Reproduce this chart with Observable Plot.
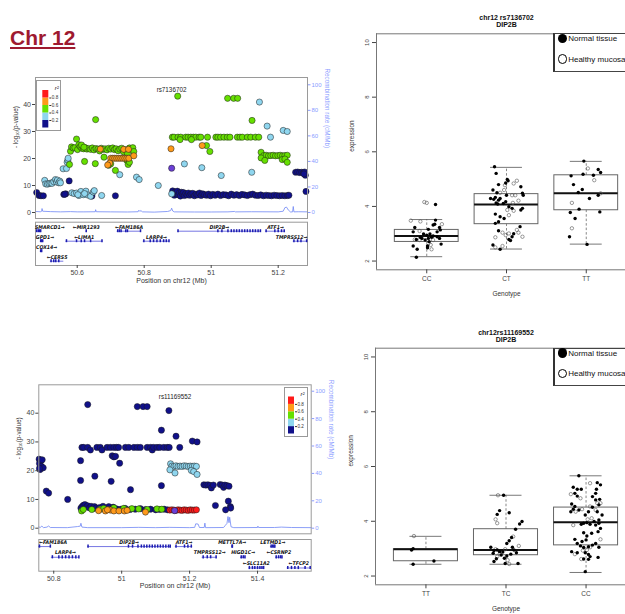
<!DOCTYPE html>
<html><head><meta charset="utf-8">
<script src="https://cdn.jsdelivr.net/npm/d3@7"></script>
<script src="https://cdn.jsdelivr.net/npm/@observablehq/plot@0.6"></script>
<style>
html,body{margin:0;padding:0;background:#fff;overflow:hidden;}
#root{position:relative;width:625px;height:614px;overflow:hidden;font-family:"Liberation Sans",Arial,Helvetica,sans-serif;background:#fff;}
#root svg{position:absolute;max-width:none !important;}
.lg{position:absolute;border:1.3px solid #444;border-left:2px solid #333;border-right:none;background:#fff;box-sizing:border-box;}
.lgrow{position:absolute;left:3px;font-size:8px;color:#111;white-space:nowrap;line-height:10px;}
.lgc{display:inline-block;width:9.5px;height:9.5px;border-radius:50%;vertical-align:middle;margin-right:1px;box-sizing:border-box;position:relative;top:-0.5px;}
</style></head><body><div id="root"></div>
<script>
// ---------------- DATA ----------------
// r2 class: 0 navy (<0.2), 1 light blue, 2 green, 3 orange, 4 red, 5 index SNP (purple)
const topSnps = [
[50.479,7.4,0],[50.486,6.3,0],[50.492,6.2,0],[50.499,6.2,0],
[50.503,11.9,1],[50.506,10.6,1],[50.511,10.5,1],[50.516,10.7,1],[50.521,10.9,1],[50.525,10.8,1],[50.530,11.4,1],[50.535,12.2,1],[50.538,11.3,1],[50.541,12.0,1],[50.545,11.0,1],[50.548,11.6,1],[50.550,11.0,1],
[50.558,16.2,1],[50.568,16.3,1],[50.570,18.6,1],[50.572,19.4,1],[50.573,20.1,1],
[50.576,11.7,0],[50.560,6.7,0],[50.566,6.9,0],[50.563,6.8,0],[50.577,17.8,2],
[50.584,7.3,1],[50.591,7.0,1],[50.598,7.2,1],[50.605,6.3,1],[50.611,7.8,1],[50.618,6.6,1],[50.626,7.9,1],[50.631,6.5,1],[50.640,6.0,1],[50.648,7.6,1],[50.651,8.1,1],[50.673,6.3,1],[50.602,6.6,1],[50.622,7.0,1],
[50.644,6.1,0],[50.714,6.2,0],
[50.580,22.7,2],[50.583,24.3,2],[50.588,23.9,2],[50.593,24.0,2],[50.598,27.2,2],[50.601,23.3,2],[50.605,25.1,2],[50.609,24.4,2],[50.614,23.8,2],[50.619,23.6,2],[50.624,24.0,2],[50.629,23.5,2],[50.634,23.7,2],[50.640,23.4,2],[50.645,23.9,2],[50.650,23.2,2],[50.656,23.7,2],[50.662,23.5,2],[50.667,22.8,2],[50.672,23.8,2],[50.678,23.4,2],[50.683,23.6,2],[50.689,23.2,2],[50.694,23.8,2],[50.700,23.5,2],[50.706,23.9,2],[50.711,23.3,2],[50.716,23.6,2],[50.722,22.9,2],[50.727,23.5,2],[50.733,23.8,2],[50.738,22.5,2],[50.744,23.2,2],[50.750,21.8,2],[50.756,23.9,2],[50.762,23.4,2],[50.766,24.0,2],[50.769,22.6,2],
[50.669,23.5,3],[50.739,23.4,3],[50.753,23.4,3],
[50.700,20.1,3],[50.706,20.1,3],[50.712,20.1,3],[50.718,20.1,3],[50.724,20.1,3],[50.730,20.1,3],[50.736,20.1,3],[50.742,20.1,3],[50.748,20.1,3],[50.754,20.1,3],[50.769,21.0,3],[50.697,18.3,3],[50.691,17.6,3],
[50.622,18.9,2],[50.654,18.1,2],[50.655,34.4,2],[50.680,20.5,2],[50.694,17.5,2],[50.700,18.0,2],[50.714,15.6,2],[50.748,19.3,2],[50.752,17.8,2],[50.756,18.6,2],[50.613,25.0,2],[50.620,24.2,2],
[50.727,14.0,1],[50.777,13.1,1],[50.785,12.2,1],[50.842,10.0,1],
[50.900,43.1,2],[51.049,42.3,2],[51.067,42.3,2],[51.079,42.3,2],
[51.144,40.9,1],[51.122,34.1,2],[51.167,32.0,1],[51.215,30.4,1],[51.227,30.0,1],
[50.884,27.9,2],[50.889,27.9,2],[50.901,27.9,2],[50.909,27.9,2],[50.924,27.9,2],[50.931,27.9,2],[50.939,27.9,2],[50.947,27.9,2],[50.954,27.9,2],[50.964,27.9,2],[50.969,27.9,2],[50.989,27.9,2],[51.014,27.9,2],[51.020,27.9,2],[51.028,27.9,2],[51.038,27.9,2],[51.048,27.9,2],[51.056,27.9,2],[51.078,27.9,2],[51.086,27.9,2],[51.093,27.9,2],[51.108,27.9,2],[51.118,27.9,2],[51.132,27.9,2],[51.142,27.9,2],[50.907,27.0,2],[50.941,27.0,2],
[51.177,27.9,1],
[50.880,23.6,3],[50.973,24.8,3],[50.986,24.8,2],[50.996,22.6,2],
[51.149,22.3,2],[51.157,21.1,2],[51.164,21.2,2],[51.171,21.0,2],[51.178,21.1,2],[51.185,21.2,2],[51.192,21.0,2],[51.199,21.1,2],[51.206,21.2,2],[51.213,21.0,2],[51.220,21.1,2],[51.227,21.2,2],[51.149,20.2,2],[51.160,19.3,2],[51.212,19.6,2],[51.220,19.8,2],[51.227,18.6,2],
[50.882,16.4,5],
[50.920,18.0,1],[50.972,16.6,1],[51.030,13.7,1],[51.121,14.9,1],[50.882,6.9,1],
[50.885,8.0,0],[50.888,7.2,0],[50.890,6.4,0],[50.893,7.6,0],[50.896,6.8,0],[50.899,7.9,0],[50.902,6.6,0],[50.905,7.3,0],[50.908,6.1,0],[50.911,7.5,0],[50.914,6.9,0],[50.917,7.4,0],[50.920,6.3,0],[50.924,7.0,0],[50.928,6.5,0],[50.932,7.2,0],[50.936,6.4,0],[50.940,6.9,0],[50.945,7.1,0],[50.950,6.2,0],[50.955,6.8,0],[50.960,6.5,0],[50.965,7.2,0],[50.970,6.3,0],[50.975,6.9,0],[50.980,6.6,0],[50.986,6.4,0],[50.992,6.8,0],[50.998,6.2,0],[51.005,6.7,0],[51.012,6.4,0],[51.020,6.8,0],[51.028,6.3,0],[51.036,6.6,0],[51.044,6.5,0],[51.052,6.2,0],[51.060,6.8,0],[51.068,6.4,0],[51.076,6.6,0],[51.084,6.3,0],[51.092,6.7,0],[51.100,6.5,0],[51.108,6.3,0],[51.116,6.6,0],[51.124,6.8,0],[51.132,6.4,0],[51.140,6.3,0],[51.148,6.5,0],[51.156,6.2,0],[51.164,6.4,0],[51.172,6.3,0],[51.180,6.2,0],[51.188,6.4,0],[51.196,6.3,0],[51.204,6.2,0],[51.212,6.3,0],[51.220,6.2,0],[51.228,6.3,0],[51.232,6.4,0],
[51.252,14.9,0],[51.258,15.0,0],[51.264,14.8,0],[51.270,14.9,0],[51.275,14.7,0],[51.279,15.0,0],[51.281,13.8,0],[51.277,14.3,0],[51.283,7.8,0]
];
const topRecomb = [[50.4755,0.8],[50.490,0.6],[50.494,1.0],[50.495,3.1],[50.497,1.0],[50.52,0.7],[50.55,0.5],[50.58,0.7],[50.60,0.5],[50.62,0.5],[50.654,0.6],[50.655,2.2],[50.657,0.6],[50.70,0.5],[50.75,0.4],[50.782,0.6],[50.784,1.8],[50.787,0.8],[50.790,1.5],[50.795,0.5],[50.83,0.3],[50.87,0.8],[50.879,1.5],[50.882,3.4],[50.885,1.2],[50.89,0.5],[50.95,0.4],[51.0,0.4],[51.05,0.5],[51.07,0.8],[51.072,0.5],[51.12,0.6],[51.2,0.5],[51.215,1.0],[51.22,3.8],[51.225,4.2],[51.23,2.0],[51.237,0.4],[51.243,0.5],[51.245,4.7],[51.247,0.5],[51.26,0.6],[51.2875,0.5]];

const botSnps = [
[50.757,24.0,0],[50.758,22.5,0],[50.760,20.4,0],[50.762,23.5,0],[50.764,21.5,0],[50.766,23.8,0],[50.769,21.0,0],[50.758,20.8,0],
[50.778,12.9,0],[50.785,12.2,0],[50.841,10.0,0],[50.879,16.6,0],[50.879,23.5,0],[50.900,43.0,0],
[50.883,28.1,0],[50.888,28.1,0],[50.900,28.1,0],[50.908,27.2,0],[50.927,28.1,0],[50.937,28.1,0],[50.942,27.2,0],[50.957,28.1,0],[50.967,28.1,0],[50.977,28.1,0],[50.985,28.1,0],[50.991,28.1,0],[51.011,28.1,0],[51.021,28.1,0],[51.036,28.1,0],[51.046,28.1,0],[51.055,28.1,0],[51.075,28.1,0],[51.085,28.1,0],[51.090,27.2,0],[51.094,28.1,0],[51.104,28.1,0],[51.112,28.1,0],[51.124,28.1,0],[51.134,28.1,0],[51.140,28.1,0],
[50.921,18.1,0],[50.972,25.2,0],[50.977,24.8,0],[50.982,25.0,0],[50.969,16.3,0],[50.994,22.6,0],[51.026,13.4,0],[51.046,42.3,0],[51.063,42.3,0],[51.075,42.3,0],[51.139,40.9,0],[51.117,34.1,0],[51.160,32.0,0],[51.171,28.1,0],[51.208,30.3,0],[51.222,30.0,0],[51.117,14.8,0],
[51.144,22.4,1],[51.148,21.6,1],[51.154,21.5,1],[51.160,21.7,1],[51.166,21.5,1],[51.172,21.6,1],[51.178,21.5,1],[51.184,21.7,1],[51.190,21.6,1],[51.196,21.5,1],[51.202,21.6,1],[51.208,21.5,1],[51.214,21.6,1],[51.220,21.5,1],[51.142,20.3,1],[51.157,19.2,1],[51.205,20.1,1],[51.212,19.7,1],[51.222,18.7,1],
[51.242,15.1,0],[51.248,15.0,0],[51.254,15.1,0],[51.260,14.9,0],[51.264,14.0,0],[51.270,15.0,0],[51.290,15.2,0],[51.296,15.0,0],[51.300,14.2,0],[51.304,15.0,0],[51.310,14.8,0],[51.316,14.6,0],
[51.276,7.9,0],[51.314,9.4,0],[51.320,7.5,0],[51.321,7.0,0],[51.306,6.4,0],
[50.880,7.0,0],[50.884,7.6,0],[50.888,8.0,0],[50.892,8.2,0],[50.896,7.4,0],[50.900,7.8,0],[50.905,7.1,0],[50.910,7.6,0],[50.915,6.8,0],[50.920,7.5,0],[50.925,7.0,0],[50.935,7.2,0],[50.945,7.6,0],[50.955,6.9,0],[50.962,7.5,0],[50.975,7.3,0],[50.985,6.7,0],[50.998,6.6,0],[51.010,6.9,0],[51.025,6.5,0],[51.040,6.6,0],[51.055,6.8,0],[51.070,6.5,0],[51.085,6.6,0],[51.100,6.4,0],[51.112,6.5,0],[51.125,6.6,0],[51.135,6.4,0],
[50.882,6.0,2],[50.887,6.5,2],[50.912,6.5,2],[50.937,6.6,2],[50.947,6.9,2],[50.977,7.1,2],[51.006,6.9,2],[51.030,6.8,2],[51.050,6.7,2],[51.075,6.5,2],[51.104,6.7,2],[51.118,6.6,2],
[50.932,6.1,3],[50.952,6.0,3],[50.962,6.5,3],[50.967,6.3,3],[50.977,6.0,3],[50.992,6.0,3],[51.008,6.0,3],[51.016,6.2,3],[51.070,5.6,3],[50.958,6.4,3],
[51.142,6.3,4],[51.148,6.4,4],[51.154,6.3,4],[51.160,6.2,4],[51.166,6.4,4],[51.172,6.3,4],[51.178,6.2,4],[51.184,6.4,4],[51.190,6.3,4],[51.196,6.2,4],[51.202,6.4,4],[51.208,6.3,4],[51.214,6.3,4],[51.220,6.4,4],
[51.156,6.1,5]
];
const botRecomb = [[50.756,1.0],[50.760,0.5],[50.765,1.5],[50.770,0.4],[50.780,0.8],[50.785,1.6],[50.790,0.5],[50.840,0.4],[50.870,1.2],[50.878,1.5],[50.880,3.6],[50.883,0.8],[50.90,0.4],[51.0,0.4],[51.05,0.6],[51.1,0.4],[51.14,0.6],[51.2,0.4],[51.215,0.6],[51.218,3.2],[51.225,3.0],[51.229,0.5],[51.243,0.5],[51.245,3.7],[51.247,0.4],[51.30,0.5],[51.305,2.0],[51.310,3.5],[51.313,8.5],[51.316,4.0],[51.318,8.0],[51.322,1.0],[51.33,0.4],[51.40,0.5],[51.401,1.5],[51.403,0.5],[51.45,0.5],[51.47,0.8],[51.50,0.5],[51.558,0.4]];

const topGenes = [
{name:"SMARCD1",strand:"+",start:50.478,end:50.492,row:0},
{name:"MIR1293",strand:"-",start:50.626,end:50.628,row:0},
{name:"FAM186A",strand:"-",start:50.719,end:50.791,row:0},
{name:"DIP2B",strand:"+",start:50.900,end:51.149,row:0},
{name:"ATF1",strand:"+",start:51.162,end:51.222,row:0},
{name:"GPD1",strand:"+",start:50.490,end:50.498,row:1},
{name:"LIMA1",strand:"-",start:50.566,end:50.676,row:1},
{name:"LARP4",strand:"+",start:50.797,end:50.876,row:1},
{name:"TMPRSS12",strand:"+",start:51.245,end:51.287,row:1},
{name:"COX14",strand:"+",start:50.490,end:50.495,row:2},
{name:"CERS5",strand:"-",start:50.520,end:50.560,row:3}
];
const topExons = [
["SMARCD1",[50.479,50.484,50.488,50.491]],["MIR1293",[50.627]],["FAM186A",[50.721,50.726,50.731,50.745,50.750,50.789]],
["DIP2B",[50.901,51.020,51.032,51.050,51.060,51.068,51.076,51.084,51.092,51.100,51.108,51.116,51.124,51.132,51.140,51.147]],
["ATF1",[51.164,51.190,51.200,51.210,51.218]],["GPD1",[50.491,50.494,50.497]],["LIMA1",[50.568,50.598,50.612,50.622,50.640,50.674]],
["LARP4",[50.799,50.818,50.828,50.838,50.848,50.858,50.866,50.874]],["TMPRSS12",[51.247,51.258,51.268,51.285]],
["COX14",[50.491,50.494]],["CERS5",[50.522,50.530,50.536,50.545]]
];
const botGenes = [
{name:"FAM186A",strand:"-",start:50.756,end:50.793,row:0},
{name:"DIP2B",strand:"+",start:50.900,end:51.144,row:0},
{name:"ATF1",strand:"+",start:51.158,end:51.209,row:0},
{name:"METTL7A",strand:"+",start:51.3245,end:51.3265,row:0},
{name:"LETMD1",strand:"+",start:51.438,end:51.452,row:0},
{name:"LARP4",strand:"+",start:50.793,end:50.876,row:1},
{name:"TMPRSS12",strand:"+",start:51.237,end:51.281,row:1},
{name:"HIGD1C",strand:"+",start:51.350,end:51.365,row:1},
{name:"CSRNP2",strand:"-",start:51.453,end:51.473,row:1},
{name:"SLC11A2",strand:"-",start:51.374,end:51.419,row:2},
{name:"TFCP2",strand:"-",start:51.487,end:51.556,row:2}
];
const botExons = [
["FAM186A",[50.758,50.790]],["DIP2B",[50.901,51.020,51.032,51.048,51.058,51.066,51.074,51.082,51.090,51.098,51.106,51.114,51.122,51.130,51.138,51.143]],
["ATF1",[51.160,51.185,51.195,51.205]],["METTL7A",[51.325,51.326]],["LETMD1",[51.440,51.444,51.448,51.451]],
["LARP4",[50.796,50.815,50.825,50.835,50.845,50.855,50.865,50.874]],["TMPRSS12",[51.240,51.252,51.262,51.278]],
["HIGD1C",[51.352,51.358,51.363]],["CSRNP2",[51.455,51.462,51.468,51.472]],
["SLC11A2",[51.376,51.385,51.392,51.400,51.407,51.413,51.418]],["TFCP2",[51.489,51.500,51.510,51.520,51.540,51.555]]
];

const r2Bins = [[0,0.2,0],[0.2,0.4,1],[0.4,0.6,2],[0.6,0.8,3],[0.8,1,4]];
const r2Ticks = [0.2,0.4,0.6,0.8];
const recTicks = [0,20,40,60,80,100];
const logpTicks = [0,10,20,30,40];

// expression boxplots: [lower whisker, Q1, median, Q3, upper whisker]
const topGenotypes = ["CC","CT","TT"];
const topStats = [[2.16,2.70,2.92,3.14,3.52],[2.44,3.35,4.07,4.45,5.43],[2.62,3.86,4.48,5.14,5.65]];
// points: [jitter offset, expression, 1 = normal tissue (filled) / 0 = healthy mucosa (open)]
const topCC = [[-0.03,4.16,0],[0,4.13,0],[0.11,4.07,1],[-0.20,3.48,0],[-0.08,3.45,0],[0.11,3.50,1],[0.08,3.32,1],[0.10,3.35,1],[0.19,3.35,0],[-0.15,3.23,1],[0.16,3.23,1],[0.02,3.16,1],[0.17,3.14,1],[-0.09,3.10,0],[-0.17,3.07,1],[0.13,3.07,1],[-0.04,2.99,1],[0,2.95,1],[0.04,2.99,1],[0.08,2.92,1],[-0.08,2.87,1],[-0.13,2.79,1],[-0.06,2.83,1],[0.02,2.83,1],[0.06,2.87,1],[0.13,2.89,1],[0.16,2.83,1],[-0.02,2.77,1],[0.03,2.71,1],[-0.15,2.79,0],[-0.09,2.77,0],[0.02,2.65,0],[0.05,2.59,0],[0.06,2.43,0],[0.08,2.77,0],[0.18,2.62,1],[-0.17,2.55,1],[-0.12,2.43,1],[0.01,2.55,1],[0.01,2.49,1],[-0.13,2.14,1]];
const topCT = [[-0.15,5.45,1],[-0.13,5.21,1],[0.01,4.99,1],[0.02,4.94,1],[-0.01,4.86,1],[0.13,4.94,0],[0.09,4.84,0],[-0.02,4.78,0],[-0.10,4.80,1],[0.18,4.72,1],[-0.17,4.60,1],[-0.03,4.60,0],[-0.08,4.50,0],[-0.12,4.50,1],[0,4.41,1],[0.07,4.41,0],[0.11,4.41,0],[0.20,4.48,1],[0.21,4.41,1],[-0.20,4.29,1],[-0.16,4.26,1],[-0.14,4.33,1],[-0.10,4.23,1],[-0.08,4.29,1],[-0.13,4.13,1],[-0.11,4.09,1],[-0.04,4.11,1],[-0.01,4.17,1],[0.08,4.13,0],[0.15,4.21,0],[0.03,3.99,1],[0.07,3.93,1],[0.01,3.87,0],[0.09,3.84,0],[0.20,3.93,1],[0.18,3.87,1],[-0.14,3.72,1],[-0.08,3.62,1],[0.03,3.68,0],[-0.03,3.56,1],[-0.10,3.44,1],[-0.14,3.38,1],[0.17,3.26,1],[-0.10,3.11,1],[-0.05,3.04,0],[-0.01,2.95,0],[0.03,3.01,0],[-0.14,2.87,0],[0.07,2.89,1],[0.13,3.14,0],[0.15,3.04,0],[0.20,2.89,0],[0.03,2.79,1],[0.05,2.75,1],[0.09,3.00,1],[-0.17,2.59,1],[-0.05,2.55,0],[-0.08,2.43,1],[-0.14,2.50,0]];
const topTT = [[-0.03,5.66,1],[0.02,5.39,0],[0.15,5.35,1],[0.18,5.24,1],[-0.19,5.12,1],[-0.04,5.18,1],[0.09,5.14,1],[0.10,4.96,0],[-0.16,4.80,1],[-0.05,4.62,1],[-0.10,4.51,1],[0.18,4.48,0],[0.15,4.41,1],[0.04,4.29,1],[-0.18,4.13,0],[-0.09,3.90,1],[-0.20,3.78,1],[0.17,3.80,1],[-0.14,3.56,1],[-0.18,3.20,0],[-0.21,2.89,1],[0.01,2.61,1]];

const botGenotypes = ["TT","TC","CC"];
const botStats = [[2.43,2.54,2.98,2.98,3.45],[2.43,2.76,2.95,3.71,4.95],[2.13,3.12,3.96,4.50,5.66]];
const botTT = [[-0.15,3.46,0],[-0.18,2.95,1],[-0.16,3.00,1],[0.10,2.55,1],[-0.16,2.43,1]];
const botTC = [[-0.10,4.95,0],[-0.03,4.95,1],[-0.08,4.39,1],[-0.11,4.25,1],[0.04,4.31,1],[-0.13,4.07,0],[-0.11,3.93,0],[0.20,3.99,1],[0.17,3.90,1],[0.12,3.71,1],[0.09,3.44,0],[0.07,3.41,1],[0.04,3.29,1],[0.01,3.19,1],[0.16,3.10,0],[0.08,3.05,1],[0.10,2.95,1],[-0.19,3.05,1],[-0.13,2.98,0],[-0.15,2.93,1],[-0.11,2.95,1],[-0.08,2.89,1],[-0.01,2.98,0],[-0.04,2.88,1],[-0.16,2.83,1],[-0.08,2.80,0],[-0.06,2.77,1],[-0.11,2.71,0],[-0.12,2.63,1],[-0.02,2.65,1],[0.01,2.73,1],[0.06,2.80,1],[0.13,2.85,1],[-0.15,2.53,1],[-0.01,2.46,1],[0.04,2.44,0],[0.15,2.46,1],[0.02,2.58,0]];
const botCC = [[-0.09,5.66,1],[0.05,5.39,0],[0.14,5.41,1],[0.18,5.33,1],[-0.16,5.24,1],[-0.11,5.17,1],[-0.06,5.17,1],[-0.19,4.99,0],[-0.14,5.02,1],[-0.07,4.84,0],[-0.11,4.92,1],[0.13,5.17,1],[0.12,5.02,1],[0.17,4.80,1],[0.12,4.78,1],[0.08,4.90,1],[0.18,4.66,0],[0.14,4.66,0],[0.16,4.60,1],[-0.18,4.63,1],[-0.14,4.54,1],[-0.16,4.44,1],[-0.09,4.41,1],[-0.19,4.35,1],[-0.05,4.44,0],[-0.13,4.35,0],[0.05,4.54,0],[0.08,4.51,1],[0.12,4.41,0],[0.03,4.35,1],[0.14,4.35,1],[-0.01,4.23,1],[0.20,4.23,1],[0.07,4.11,0],[0.02,4.07,0],[0.16,4.05,1],[-0.16,3.86,0],[-0.06,3.89,1],[-0.03,3.93,1],[0.01,3.95,1],[0.05,3.89,1],[0.10,3.99,1],[0.16,3.93,1],[0.12,3.86,1],[0.18,3.74,1],[0.15,3.62,1],[-0.03,3.58,1],[0.07,3.56,1],[0.01,3.46,1],[0,3.32,1],[-0.05,3.26,1],[0.18,3.34,0],[0.12,3.19,1],[0.16,3.05,1],[0.08,3.13,1],[0.03,3.07,1],[-0.14,3.34,1],[-0.11,3.19,1],[-0.07,3.10,1],[-0.03,3.04,1],[0.01,2.95,0],[0.05,3.05,0],[-0.18,2.89,1],[-0.11,2.85,1],[-0.04,2.93,0],[-0.01,2.85,1],[0.03,2.79,1],[0.05,2.71,1],[-0.14,2.80,0],[-0.06,2.62,0],[-0.03,2.62,1],[0.03,2.61,1],[0.15,2.68,1],[-0.01,2.16,1]];

// ---------------- STYLE ----------------
const R2_COLORS = ["#10108a","#8fd6ef","#66e000","#ff9a1a","#ff1a1a","#6b3fd6"];
const REC_LINE = "#6f86f5";
const REC_TEXT = "#8b9cff";
const GENE_LINE = "#3b3bd6";
const EXON = "#1c1cb0";
const FONT = "'Liberation Sans', Arial, Helvetica, sans-serif";
const GENE_FONT = "'DejaVu Sans Condensed', 'DejaVu Sans', sans-serif";
const root = document.getElementById("root");

function place(el, x, y) { el.style.left = x + "px"; el.style.top = y + "px"; el.style.position = "absolute"; root.appendChild(el); return el; }
const baseStyle = {fontFamily: FONT, fontSize: "7px", color: "#222", background: "transparent", overflow: "visible", maxWidth: "none"};

function locusMain(o) {
  const sorted = [...o.snps].sort((a, b) => a[2] - b[2]);
  return Plot.plot({
    width: o.width, height: o.height, marginLeft: o.mL, marginRight: o.mR, marginTop: o.mT, marginBottom: o.mB,
    x: {domain: o.dx, axis: null}, y: {domain: o.dy, axis: null}, style: baseStyle,
    marks: [
      Plot.line(o.rec, {x: d => d[0], y: d => d[1] * o.k, stroke: REC_LINE, strokeWidth: 0.8}),
      Plot.dot(sorted, {x: d => d[0], y: d => d[1], r: 3.1, fill: d => R2_COLORS[d[2]], stroke: "#1a1a1a", strokeWidth: 0.5}),
      Plot.frame({stroke: "#9a9a9a", strokeWidth: 1}),
      Plot.axisY({anchor: "left", ticks: logpTicks, tickSize: 3, tickPadding: 1.5, fontSize: 7, color: "#444"}),
      Plot.axisY({anchor: "right", ticks: recTicks.map(r => r * o.k), tickFormat: d => String(Math.round(d / o.k)), tickSize: 2.5, tickPadding: 1.5, fontSize: 6, color: REC_TEXT}),
      Plot.text([o.title], {text: d => d, frameAnchor: "top", dy: 10, fontSize: 6.3, fill: "#222"}),
      Plot.text(["- log\u2081\u2080(p-value)"], {text: d => d, frameAnchor: "left", dx: -20, rotate: -90, fontSize: 6.3, fill: "#333"}),
      Plot.text(["Recombination rate (cM/Mb)"], {text: d => d, frameAnchor: "right", dx: 20, rotate: 90, fontSize: 6.3, fill: REC_TEXT})
    ]
  });
}

function genePanel(o) {
  const px = (o.width - o.mL - o.mR) / (o.dx[1] - o.dx[0]);
  const labels = o.genes.map(g => {
    const text = g.strand === "+" ? g.name + "\u2192" : "\u2190" + g.name;
    const half = (text.length * 3.2) / 2 / px, pad = 1.5 / px, mid = (g.start + g.end) / 2;
    return {...g, text, lx: Math.max(o.dx[0] + half + pad, Math.min(o.dx[1] - half - pad, mid))};
  });
  const ex = o.exons.flatMap(([name, xs]) => { const g = o.genes.find(g => g.name === name); return xs.map(x => ({x, row: g.row})); });
  return Plot.plot({
    width: o.width, height: o.height, marginLeft: o.mL, marginRight: o.mR, marginTop: o.mT, marginBottom: o.mB,
    x: {domain: o.dx, axis: null}, y: {domain: o.dy, reverse: true, axis: null}, style: baseStyle,
    marks: [
      Plot.frame({stroke: "#9a9a9a", strokeWidth: 1}),
      Plot.ruleY(o.genes, {y: d => d.row + o.off, x1: "start", x2: "end", stroke: GENE_LINE, strokeWidth: 0.7}),
      Plot.ruleX(ex, {x: "x", y1: d => d.row + o.off - 0.15, y2: d => d.row + o.off + 0.15, stroke: EXON, strokeWidth: 1.5}),
      Plot.text(labels, {x: "lx", y: d => d.row - 0.08, text: "text", fontSize: 5.2, fontWeight: "bold", fontStyle: "italic", fontFamily: GENE_FONT, fill: "#111"}),
      Plot.axisX({ticks: o.ticks, tickFormat: d => String(d), tickSize: 3, tickPadding: 2, fontSize: 7, color: "#444"}),
      Plot.text(["Position on chr12 (Mb)"], {text: d => d, frameAnchor: "bottom", dy: 17, fontSize: 7, fill: "#333"})
    ]
  });
}

function r2Legend(w, h, l, t) {
  const box = document.createElement("div");
  box.style.cssText = `position:absolute;width:${w}px;height:${h}px;border:1px solid #999;background:#fff;box-sizing:border-box;`;
  const svg = Plot.plot({
    width: w - 2, height: h - 2, marginLeft: l, marginRight: w - 2 - l - 6, marginTop: t, marginBottom: 2.5,
    x: {domain: [0, 1], axis: null}, y: {domain: [0, 1], axis: null}, style: {...baseStyle, fontSize: "5px"},
    marks: [
      Plot.rect(r2Bins, {x1: 0, x2: 1, y1: d => d[0], y2: d => d[1], fill: d => R2_COLORS[d[2]]}),
      Plot.axisY({anchor: "right", ticks: r2Ticks, tickSize: 2, tickPadding: 1, fontSize: 4.6, color: "#333"}),
      Plot.text(["r\u00B2"], {text: d => d, frameAnchor: "top-right", dx: 10, dy: -5, fontSize: 6, fontStyle: "italic", fill: "#111"})
    ]
  });
  svg.style.position = "absolute"; svg.style.left = "0px"; svg.style.top = "0px";
  box.appendChild(svg);
  return box;
}

function boxPanel(o) {
  const rows = o.stats.map((s, i) => ({i: i + 1, lo: s[0], q1: s[1], med: s[2], q3: s[3], hi: s[4]}));
  const pts = o.groups.flatMap((g, gi) => g.map(p => ({x: gi + 1 + p[0], y: p[1], f: p[2]})));
  const xd = [0.37, 3.63], yd = [1.68, 10.32];
  return Plot.plot({
    width: 310, height: o.height, marginLeft: o.mL, marginRight: 4, marginTop: o.mT, marginBottom: o.mB,
    x: {domain: xd, axis: null}, y: {domain: yd, axis: null}, style: baseStyle,
    marks: [
      Plot.ruleX(rows, {x: "i", y1: "lo", y2: "q1", stroke: "#555", strokeWidth: 0.7, strokeDasharray: "2.5,2"}),
      Plot.ruleX(rows, {x: "i", y1: "q3", y2: "hi", stroke: "#555", strokeWidth: 0.7, strokeDasharray: "2.5,2"}),
      Plot.ruleY(rows, {y: "lo", x1: d => d.i - 0.2, x2: d => d.i + 0.2, stroke: "#555", strokeWidth: 0.8}),
      Plot.ruleY(rows, {y: "hi", x1: d => d.i - 0.2, x2: d => d.i + 0.2, stroke: "#555", strokeWidth: 0.8}),
      Plot.rect(rows, {x1: d => d.i - 0.4, x2: d => d.i + 0.4, y1: "q1", y2: "q3", fill: "none", stroke: "#666", strokeWidth: 1}),
      Plot.ruleY(rows, {y: "med", x1: d => d.i - 0.4, x2: d => d.i + 0.4, stroke: "#111", strokeWidth: 2}),
      Plot.dot(pts.filter(d => !d.f), {x: "x", y: "y", r: 1.7, fill: "none", stroke: "#555", strokeWidth: 0.6}),
      Plot.dot(pts.filter(d => d.f), {x: "x", y: "y", r: 1.7, fill: "#000"}),
      Plot.ruleY(yd, {stroke: "#777", strokeWidth: 1}),
      Plot.ruleX([xd[0]], {stroke: "#777", strokeWidth: 1}),
      Plot.axisY({ticks: [2, 4, 6, 8, 10], tickSize: 4, tickPadding: 4, tickRotate: -90, fontSize: 6, color: "#444"}),
      Plot.axisX({ticks: [1, 2, 3], tickFormat: i => o.genotypes[i - 1], tickSize: 4, tickPadding: 3, fontSize: 6.5, color: "#444"}),
      Plot.text([o.title1], {text: d => d, frameAnchor: "top", dy: o.tdy, fontSize: 7, fontWeight: "bold", fill: "#111"}),
      Plot.text(["DIP2B"], {text: d => d, frameAnchor: "top", dy: o.tdy + 7, fontSize: 7, fontWeight: "bold", fill: "#111"}),
      Plot.text(["expression"], {text: d => d, frameAnchor: "left", dx: -24.5, rotate: -90, fontSize: 6.5, fill: "#333"}),
      Plot.text(["Genotype"], {text: d => d, frameAnchor: "bottom", dy: 25.7, fontSize: 6.5, fill: "#333"})
    ]
  });
}

function exprLegend(x, y) {
  const box = document.createElement("div");
  box.className = "lg";
  box.style.width = "80px"; box.style.height = "38.5px";
  box.innerHTML = `<div class="lgrow" style="top:0px;left:3px"><span class="lgc" style="background:#000"></span>Normal tissue</div>
  <div class="lgrow" style="top:20.5px;left:3px"><span class="lgc" style="border:1px solid #000;background:#fff"></span>Healthy mucosa</div>`;
  return place(box, x, y);
}

// ---------------- LAYOUT ----------------
const title = document.createElement("div");
title.textContent = "Chr 12";
title.style.cssText = "font-size:21px;font-weight:bold;color:#9e1a30;text-decoration:underline;text-decoration-thickness:1.5px;text-underline-offset:2px;font-family:'Liberation Sans',Arial,sans-serif;";
place(title, 10, 26);

place(locusMain({snps: topSnps, rec: topRecomb, k: 0.473, dx: [50.4755, 51.2875], dy: [-2.22, 50], width: 330, height: 150, mL: 35, mR: 23, mT: 7, mB: 2, title: "rs7136702"}), 0, 70);
place(genePanel({genes: topGenes, exons: topExons, dx: [50.4755, 51.2875], dy: [-0.56, 3.77], off: 0.34, ticks: [50.6, 50.8, 51, 51.2], width: 330, height: 75, mL: 35, mR: 23, mT: 6.7, mB: 25}), 0, 215);
place(r2Legend(25.5, 51, 5.3, 9), 35.7, 80);

place(locusMain({snps: botSnps, rec: botRecomb, k: 0.4765, dx: [50.756, 51.558], dy: [-1.95, 49.88], width: 335, height: 160, mL: 38.3, mR: 24.3, mT: 7.3, mB: 3.7, title: "rs11169552"}), 0, 377);
place(genePanel({genes: botGenes, exons: botExons, dx: [50.756, 51.558], dy: [-0.31, 2.65], off: 0.35, ticks: [50.8, 51, 51.2, 51.4], width: 335, height: 62, mL: 38.3, mR: 24.3, mT: 7, mB: 23.3}), 0, 532);
place(r2Legend(23.5, 50, 3, 8.5), 284.3, 387.3);

place(boxPanel({genotypes: topGenotypes, stats: topStats, groups: [topCC, topCT, topTT], height: 305, mL: 46, mT: 33.3, mB: 35.7, title1: "chr12 rs7136702", tdy: -18.5}), 330, 0);
exprLegend(552.7, 33.3);
place(boxPanel({genotypes: botGenotypes, stats: botStats, groups: [botTT, botTC, botCC], height: 304, mL: 45, mT: 37.7, mB: 29.7, title1: "chr12rs11169552", tdy: -18.5}), 330, 310);
exprLegend(552.7, 347.7);
</script></body></html>
